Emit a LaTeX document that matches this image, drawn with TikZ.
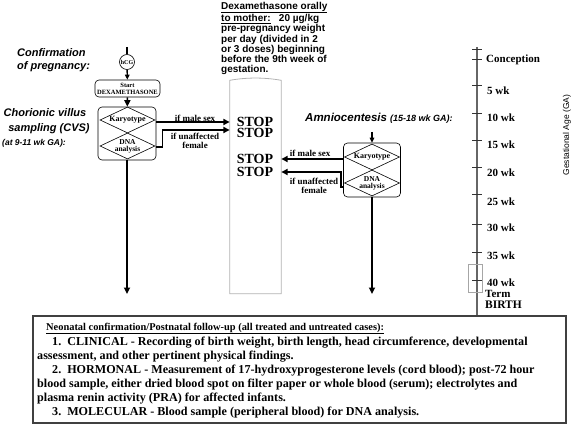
\documentclass[tikz,border=0pt]{standalone}
\usepackage{fontspec}
\setmainfont{Liberation Serif}
\newfontfamily\sansf{Liberation Sans}
\usetikzlibrary{shapes.geometric,arrows.meta,calc}
\begin{document}
\begin{tikzpicture}[x=1pt,y=-1pt,
 arr/.style={line width=1.6pt,-{Triangle[length=6.5pt,width=6pt]}},
 conn/.style={line width=1.4pt},
 dia/.style={diamond, aspect=2.1, draw, line width=0.6pt, minimum width=55pt, minimum height=26pt, inner sep=0pt, align=center, font=\bfseries\fontsize{7.5}{7}\selectfont},
 rbox/.style={draw, line width=0.6pt, rounded corners=4pt, inner sep=0pt},
 stoptxt/.style={font=\bfseries\fontsize{14}{11}\selectfont, inner sep=0pt, align=center},
 lbl/.style={font=\bfseries\fontsize{9}{8.5}\selectfont, inner sep=0pt, align=center},
 side/.style={font=\sansf\bfseries\itshape\fontsize{11}{13}\selectfont, inner sep=0pt},
 wk/.style={font=\bfseries\fontsize{11}{11}\selectfont, inner sep=0pt, anchor=base west},
 foot/.style={font=\bfseries\fontsize{12.1}{12}\selectfont, inner sep=0pt, anchor=base west},
 tick/.style={line width=0.6pt, black!80},
]
\useasboundingbox (0,0) rectangle (576,425);

% left labels
\node[side, anchor=base west] (conf1) at (17,57) {Confirmation};
\node[side, anchor=base west] (conf2) at (17,70) {of pregnancy:};
\node[side, anchor=base] (cvs1) at (45,117) {Chorionic villus};
\node[side, anchor=base] (cvs2) at (49,132) {sampling (CVS)};
\node[side, anchor=base west, font=\sansf\bfseries\itshape\fontsize{8.5}{10}\selectfont] (cvs3) at (2,146) {(at 9-11 wk GA):};

% CVS column
\coordinate (in1) at (127,47);
\node[draw, circle, line width=0.6pt, minimum size=15pt, inner sep=0pt, font=\bfseries\fontsize{6}{6}\selectfont] (hcg) at (127,62) {hCG};
\node[rbox, minimum width=65pt, minimum height=17pt, align=center, font=\bfseries\fontsize{6.5}{7}\selectfont] (start) at (127.5,88.5) {Start\\DEXAMETHASONE};
\node[rbox, minimum width=58pt, minimum height=53pt] (cvs) at (127,133.5) {};
\node[dia, font=\bfseries\fontsize{8}{8}\selectfont] (kar1) at (127.5,120) {Karyotype};
\node[dia] (dna1) at (127.5,146) {DNA\\analysis};
\coordinate (end1) at (127,294);
\draw[conn] (in1) -- (hcg.north);
\draw[line width=1.4pt,-{Triangle[length=5pt,width=4.5pt]}] (hcg) -- (start);
\draw[arr] (start) -- (cvs);
\draw[arr] (cvs) -- (end1);

% central STOP box
\node[minimum width=51pt, minimum height=215pt, inner sep=0pt] (stopbox) at (255.5,186) {};
\draw[gray!60, line width=0.8pt] (stopbox.south west) -- ($(stopbox.north west)+(0,2)$)
  .. controls ($(stopbox.north west)+(17,-1)$) and ($(stopbox.north east)+(-17,-1)$) .. ($(stopbox.north east)+(0,2)$)
  -- (stopbox.south east) -- cycle;
\node[stoptxt] (s12) at (255,127.5) {STOP\\STOP};
\node[stoptxt, font=\bfseries\fontsize{14}{13}\selectfont] (s34) at (255,165.5) {STOP\\STOP};

\draw[arr] (cvs.east |- 0,122) -- (stopbox.west |- 0,122);
\draw[arr] (cvs.east |- 0,147) -- ++(6,0) |- (stopbox.west |- 0,130);
\node[lbl] (l1) at (195,118) {if male sex};
\node[lbl] (l2) at (195,141) {if unaffected\\female};

% Dexamethasone text
\node[anchor=north west, inner sep=0pt, align=left, font=\sansf\bfseries\fontsize{10}{10.3}\selectfont] (dex) at (221,1.7)
 {\underline{Dexamethasone orally}\\\underline{to mother:}\ \ \ 20 µg/kg\\pre-pregnancy weight\\per day (divided in 2\\or 3 doses) beginning\\before the 9th week of\\gestation.};

% Amniocentesis
\node[side, anchor=base west, font=\sansf\bfseries\itshape\fontsize{11.5}{13}\selectfont] (amt) at (305,122) {Amniocentesis {\fontsize{9}{10}\selectfont(15-18 wk GA):}};
\coordinate (in2) at (372,132);
\node[rbox, minimum width=57pt, minimum height=54pt] (amn) at (372,170) {};
\node[dia, font=\bfseries\fontsize{8}{8}\selectfont] (kar2) at (372,157) {Karyotype};
\node[dia] (dna2) at (372,183) {DNA\\analysis};
\coordinate (end2) at (372,294);
\draw[line width=1.4pt,-{Triangle[length=5pt,width=4.5pt]}] (in2) -- (amn.north);
\draw[arr] (amn.south) -- (end2);
\draw[arr] (amn.west |- 0,159) -- (stopbox.east |- 0,159);
\draw[arr] (amn.west |- 0,187) -- ++(-2,0) |- (stopbox.east |- 0,172);
\node[lbl] (l3) at (310,153) {if male sex};
\node[lbl] (l4) at (314,186) {if unaffected\\female};

% Bottom box
\node[draw=black!75, line width=1.5pt, minimum width=533pt, minimum height=107pt, inner sep=0pt] (fbox) at (299.5,369.5) {};

% timeline
\coordinate (tl0) at (477,47);
\draw[black!60, line width=1.2pt] (tl0) -- (tl0 |- fbox.north);
\draw[tick] (472,49) -- (482,49);
\draw[gray!70, line width=0.6pt] (468,264) rectangle (482,292);
\foreach \yt in {59,85,113,140,167,194,224,252,280}{\draw[tick] (472,\yt) -- (482,\yt);}
\node[wk] (w0) at (486,63) {Conception};
\node[wk] (w1) at (487,95) {5 wk};
\node[wk] (w2) at (487,122) {10 wk};
\node[wk] (w3) at (487,149) {15 wk};
\node[wk] (w4) at (487,177) {20 wk};
\node[wk] (w5) at (487,205) {25 wk};
\node[wk] (w6) at (487,232) {30 wk};
\node[wk] (w7) at (487,259) {35 wk};
\node[wk] (w8) at (487,286) {40 wk};
\node[wk] (term) at (485,297) {Term};
\node[wk, font=\bfseries\fontsize{11.5}{11}\selectfont] (birth) at (485,308) {BIRTH};
\node[font=\sansf\fontsize{8.5}{9}\selectfont, rotate=90, inner sep=0pt] (ga) at (567,135) {Gestational Age (GA)};

% footer text
\node[foot, font=\bfseries\fontsize{10.4}{12}\selectfont] (f0) at (46,330) {\underline{Neonatal confirmation/Postnatal follow-up (all treated and untreated cases):}};
\node[foot] (f1) at (52,345.5) {1.\ \ CLINICAL - Recording of birth weight, birth length, head circumference, developmental};
\node[foot] (f2) at (37,359.5) {assessment, and other pertinent physical findings.};
\node[foot] (f3) at (52,373.5) {2.\ \ HORMONAL - Measurement of 17-hydroxyprogesterone levels (cord blood); post-72 hour};
\node[foot] (f4) at (37,387.5) {blood sample, either dried blood spot on filter paper or whole blood (serum); electrolytes and};
\node[foot] (f5) at (37,401.5) {plasma renin activity (PRA) for affected infants.};
\node[foot] (f6) at (52,415.5) {3.\ \ MOLECULAR - Blood sample (peripheral blood) for DNA analysis.};
\end{tikzpicture}
\end{document}
